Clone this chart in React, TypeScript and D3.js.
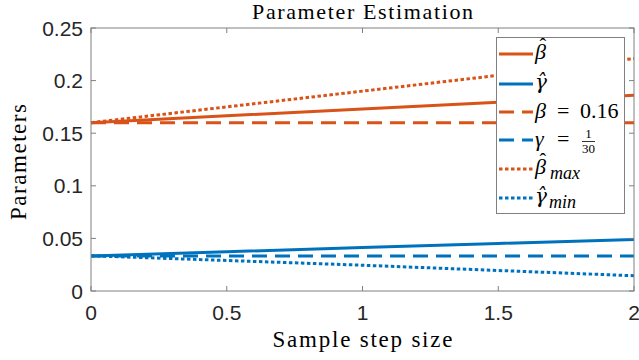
import { useMemo } from 'react';
import * as d3 from 'd3';

// sample step sizes and the estimates
const stepSizes = [0, 0.5, 1, 1.5, 2];
const betaHat = [0.16, 0.1665, 0.173, 0.1795, 0.186];
const gammaHat = [0.0333, 0.0373, 0.0413, 0.0452, 0.049];
const betaTrue = [0.16, 0.16, 0.16, 0.16, 0.16];
const gammaTrue = [1 / 30, 1 / 30, 1 / 30, 1 / 30, 1 / 30];
const betaMax = [0.16, 0.175, 0.19, 0.205, 0.221];
const gammaMin = [0.0335, 0.029, 0.0245, 0.0195, 0.0145];

const xTicks = [0, 0.5, 1, 1.5, 2];
const yTicks = [0, 0.05, 0.1, 0.15, 0.2, 0.25];

const ORANGE = '#D95319';
const BLUE = '#0072BD';
const AXIS = '#808080';
const TEXT = '#262626';
const SERIF = '"Liberation Serif", "Times New Roman", serif';
const MATH = '"DejaVu Serif", serif';
const SANS = '"Liberation Sans", Arial, Helvetica, sans-serif';

const DASHED = '15 8';
const DOTTED = '3.5 2.5';

const MARGIN = { top: 28, right: 5, bottom: 69, left: 91 };

const App = () => {
  const width = 639,
    height = 360;
  const boundsWidth = width - MARGIN.left - MARGIN.right;
  const boundsHeight = height - MARGIN.top - MARGIN.bottom;

  const xScale = useMemo(
    () => d3.scaleLinear().domain([0, 2]).range([0, boundsWidth]),
    [boundsWidth]
  );
  const yScale = useMemo(
    () => d3.scaleLinear().domain([0, 0.25]).range([boundsHeight, 0]),
    [boundsHeight]
  );

  const line = d3
    .line<number>()
    .x((_, i) => xScale(stepSizes[i]))
    .y(d => yScale(d));

  const series = [
    { values: betaTrue, color: ORANGE, dash: DASHED },
    { values: gammaTrue, color: BLUE, dash: DASHED },
    { values: betaMax, color: ORANGE, dash: DOTTED },
    { values: gammaMin, color: BLUE, dash: DOTTED },
    { values: betaHat, color: ORANGE, dash: undefined },
    { values: gammaHat, color: BLUE, dash: undefined },
  ];

  const tickLen = 5;

  // legend line samples
  const legendRows = [
    { color: ORANGE, dash: undefined, y: 54 },
    { color: BLUE, dash: undefined, y: 84 },
    { color: ORANGE, dash: DASHED, y: 112 },
    { color: BLUE, dash: DASHED, y: 140 },
    { color: ORANGE, dash: DOTTED, y: 169 },
    { color: BLUE, dash: DOTTED, y: 198 },
  ];

  return (
    <div style={{ position: 'absolute', left: 0, top: 0 }}>
      <svg width={width} height={height} style={{ display: 'block' }}>
        <rect width={width} height={height} fill="#ffffff" />
        <text
          x={362.5}
          y={19}
          textAnchor="middle"
          fontFamily={SERIF}
          fontSize={22}
          textLength={221}
          lengthAdjust="spacing"
          fill="#000"
        >
          Parameter Estimation
        </text>

        <g transform={`translate(${MARGIN.left},${MARGIN.top})`}>
          {series.map((s, i) => (
            <path
              key={i}
              d={line(s.values) ?? ''}
              fill="none"
              stroke={s.color}
              strokeWidth={3}
              strokeDasharray={s.dash}
            />
          ))}

          {/* box */}
          <rect
            x={0}
            y={0}
            width={boundsWidth}
            height={boundsHeight}
            fill="none"
            stroke={AXIS}
            strokeWidth={1}
          />

          {xTicks.map(t => (
            <g key={'x' + t}>
              <line x1={xScale(t)} x2={xScale(t)} y1={boundsHeight} y2={boundsHeight - tickLen} stroke={AXIS} />
              <line x1={xScale(t)} x2={xScale(t)} y1={0} y2={tickLen} stroke={AXIS} />
              <text
                x={xScale(t)}
                y={boundsHeight + 29}
                textAnchor="middle"
                fontFamily={SANS}
                fontSize={21}
                fill={TEXT}
              >
                {t}
              </text>
            </g>
          ))}

          {yTicks.map(t => (
            <g key={'y' + t}>
              <line x1={0} x2={tickLen} y1={yScale(t)} y2={yScale(t)} stroke={AXIS} />
              <line x1={boundsWidth} x2={boundsWidth - tickLen} y1={yScale(t)} y2={yScale(t)} stroke={AXIS} />
              <text
                x={-8}
                y={yScale(t) + 7.5}
                textAnchor="end"
                fontFamily={SANS}
                fontSize={21}
                fill={TEXT}
              >
                {t}
              </text>
            </g>
          ))}
        </g>

        <text
          x={362.5}
          y={347}
          textAnchor="middle"
          fontFamily={SERIF}
          fontSize={23}
          textLength={180}
          lengthAdjust="spacing"
          fill="#000"
        >
          Sample step size
        </text>
        <text
          transform="translate(26,162) rotate(-90)"
          textAnchor="middle"
          fontFamily={SERIF}
          fontSize={23}
          textLength={116}
          lengthAdjust="spacing"
          fill="#000"
        >
          Parameters
        </text>

        {/* legend */}
        <g>
          <rect x={496.5} y={37.5} width={128} height={176} fill="#ffffff" stroke={AXIS} />
          {legendRows.map((r, i) => (
            <line
              key={i}
              x1={499}
              x2={533}
              y1={r.y}
              y2={r.y}
              stroke={r.color}
              strokeWidth={3}
              strokeDasharray={r.dash}
            />
          ))}
          <g fontFamily={SERIF} fill="#000">
            <text x={535} y={59} fontSize={22} fontStyle="italic">
              β<tspan x={539.5} dy={-6} fontSize={20} fontStyle="normal">ˆ</tspan>
            </text>
            <text x={535} y={89} fontSize={20} fontFamily={MATH} fontStyle="italic">{'γ\u0302'}</text>
            <text x={535} y={118} fontSize={22}>
              <tspan fontStyle="italic">β</tspan>
              <tspan x={557}>=</tspan>
              <tspan x={580}>0.16</tspan>
            </text>
            <text x={535} y={146} fontSize={22}>
              <tspan fontStyle="italic">γ</tspan>
              <tspan x={557}>=</tspan>
            </text>
            <text x={588.5} y={138} fontSize={13} textAnchor="middle">1</text>
            <line x1={582} x2={595} y1={141.5} y2={141.5} stroke="#000" strokeWidth={0.8} />
            <text x={588.5} y={153} fontSize={13} textAnchor="middle">30</text>
            <text x={535} y={174} fontSize={22} fontStyle="italic">
              β<tspan x={539.5} dy={-6} fontSize={20} fontStyle="normal">ˆ</tspan>
              <tspan x={550} dy={11} fontSize={18}>max</tspan>
            </text>
            <text x={535} y={203} fontSize={20} fontFamily={MATH} fontStyle="italic">
              {'γ\u0302'}
              <tspan x={549} dy={5} fontSize={18} fontFamily={SERIF}>min</tspan>
            </text>
          </g>
        </g>
      </svg>
    </div>
  );
};

export default App;
